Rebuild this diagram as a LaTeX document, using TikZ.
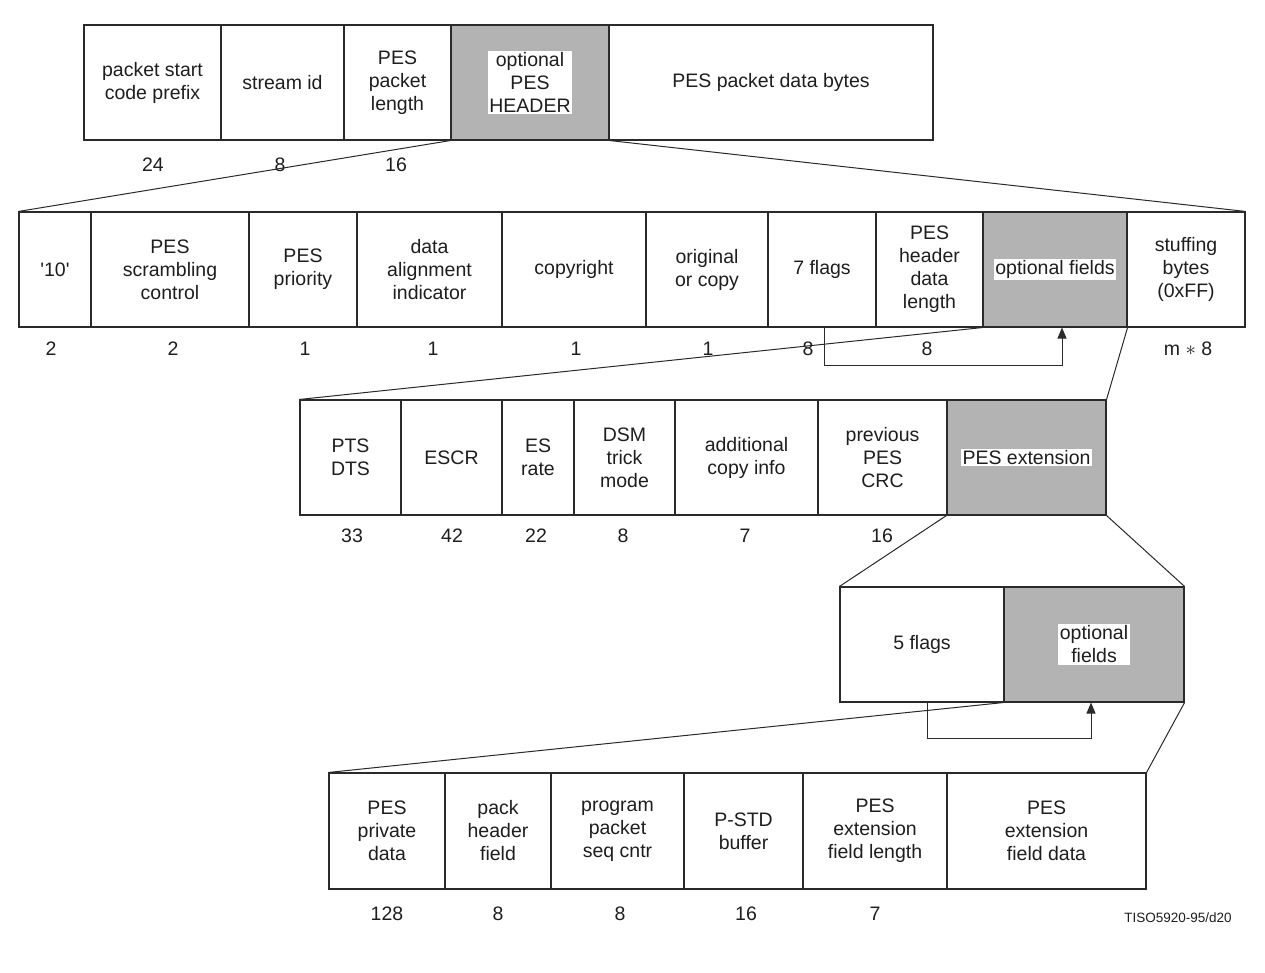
\documentclass[tikz,border=0pt]{standalone}
\usepackage{fontspec}
\setmainfont{Liberation Sans}
\usetikzlibrary{arrows.meta}
\definecolor{linec}{HTML}{2A2A2A}
\definecolor{greyc}{HTML}{B3B3B3}
\definecolor{textc}{HTML}{1E1E1E}
\newcommand\fsz{\fontsize{19.5}{23}\selectfont}
\newcommand\fld[7]{\node[#6, minimum width={(#3-#2)*1pt}, minimum height={#5*1pt}] (#1) at ({(#2+#3)/2},#4) {#7};}
\newcommand\num[3]{\node[numlab] (#1) at (#2,#3) {\strut};}
\begin{document}
\begin{tikzpicture}[x=1pt,y=-1pt,
  fieldbox/.style={draw=linec, line width=1.1pt, inner sep=0pt, align=center, font=\fsz, text=textc},
  greybox/.style={fieldbox, fill=greyc},
  whitelab/.style={fill=white, inner sep=1.5pt, align=center, font=\fsz, text=textc},
  numlab/.style={font=\fsz, text=textc, inner sep=0pt},
  conn/.style={draw=linec, line width=1pt},
  bracket/.style={draw=linec, line width=1pt, -{Triangle[width=9pt,length=11pt]}}]
\useasboundingbox (0,0) rectangle (1265,973);
% Row 1
\fld{psc}{84}{221}{82.5}{115}{fieldbox}{packet start\\code prefix}
\fld{sid}{221}{344}{82.5}{115}{fieldbox}{stream id}
\fld{ppl}{344}{451}{82.5}{115}{fieldbox}{PES\\packet\\length}
\fld{oph}{451}{609}{82.5}{115}{greybox}{}
\node[whitelab] (ophl) at (oph.center) {optional\\PES\\HEADER};
\fld{pdb}{609}{933}{82.5}{115}{fieldbox}{PES packet data bytes}
\node[numlab] (n1a) at (153,165) {24};
\node[numlab] (n1b) at (280,165) {8};
\node[numlab] (n1c) at (396,165) {16};
% Row 2
\fld{rten}{19}{91}{269.5}{115}{fieldbox}{\textquotesingle 10\textquotesingle}
\fld{scr}{91}{249}{269.5}{115}{fieldbox}{PES\\scrambling\\control}
\fld{pri}{249}{357}{269.5}{115}{fieldbox}{PES\\priority}
\fld{dai}{357}{502}{269.5}{115}{fieldbox}{data\\alignment\\indicator}
\fld{cop}{502}{646}{269.5}{115}{fieldbox}{copyright}
\fld{ooc}{646}{768}{269.5}{115}{fieldbox}{original\\or copy}
\fld{flseven}{768}{876}{269.5}{115}{fieldbox}{7 flags}
\fld{hdl}{876}{983}{269.5}{115}{fieldbox}{PES\\header\\data\\length}
\fld{opf}{983}{1127}{269.5}{115}{greybox}{}
\node[whitelab] (opfl) at (opf.center) {optional fields};
\fld{stf}{1127}{1245}{269.5}{115}{fieldbox}{stuffing\\bytes\\(0xFF)}
\node[numlab] (n2a) at (51,349) {2};
\node[numlab] (n2b) at (173,349) {2};
\node[numlab] (n2c) at (305,349) {1};
\node[numlab] (n2d) at (433,349) {1};
\node[numlab] (n2e) at (576,349) {1};
\node[numlab] (n2f) at (708,349) {1};
\node[numlab] (n2g) at (808,349) {8};
\node[numlab] (n2h) at (927,349) {8};
\node[numlab] (n2i) at (1188,349) {m $\ast$ 8};
% Row 3
\fld{pts}{300}{401}{457.5}{115}{fieldbox}{PTS\\DTS}
\fld{escr}{401}{502}{457.5}{115}{fieldbox}{ESCR}
\fld{esr}{502}{574}{457.5}{115}{fieldbox}{ES\\rate}
\fld{dsm}{574}{675}{457.5}{115}{fieldbox}{DSM\\trick\\mode}
\fld{aci}{675}{818}{457.5}{115}{fieldbox}{additional\\copy info}
\fld{crc}{818}{947}{457.5}{115}{fieldbox}{previous\\PES\\CRC}
\fld{pex}{947}{1106}{457.5}{115}{greybox}{}
\node[whitelab] (pexl) at (pex.center) {PES extension};
\node[numlab] (n3a) at (352,536) {33};
\node[numlab] (n3b) at (452,536) {42};
\node[numlab] (n3c) at (536,536) {22};
\node[numlab] (n3d) at (623,536) {8};
\node[numlab] (n3e) at (745,536) {7};
\node[numlab] (n3f) at (882,536) {16};
% Row 4
\fld{flfive}{840}{1004}{644.5}{115}{fieldbox}{5 flags}
\fld{opfour}{1004}{1184}{644.5}{115}{greybox}{}
\node[whitelab] (opfourl) at (opfour.center) {optional\\fields};
% Row 5
\fld{ppd}{329}{445}{831}{116}{fieldbox}{PES\\private\\data}
\fld{phf}{445}{551}{831}{116}{fieldbox}{pack\\header\\field}
\fld{pps}{551}{684}{831}{116}{fieldbox}{program\\packet\\seq cntr}
\fld{psb}{684}{803}{831}{116}{fieldbox}{P-STD\\buffer}
\fld{pel}{803}{947}{831}{116}{fieldbox}{PES\\extension\\field length}
\fld{ped}{947}{1146}{831}{116}{fieldbox}{PES\\extension\\field data}
\node[numlab] (n5a) at (387,914) {128};
\node[numlab] (n5b) at (498,914) {8};
\node[numlab] (n5c) at (620,914) {8};
\node[numlab] (n5d) at (746,914) {16};
\node[numlab] (n5e) at (875,914) {7};
\node[font=\fontsize{13.5}{15}\selectfont, text=textc, inner sep=0pt] (tiso) at (1178,918) {TISO5920-95/d20};
% Expansion connectors
\draw[conn] (oph.south west) -- (rten.north west);
\draw[conn] (oph.south east) -- (stf.north east);
\draw[conn] (opf.south west) -- (pts.north west);
\draw[conn] (opf.south east) -- (pex.north east);
\draw[conn] (pex.south west) -- (flfive.north west);
\draw[conn] (pex.south east) -- (opfour.north east);
\draw[conn] (opfour.south west) -- (ppd.north west);
\draw[conn] (opfour.south east) -- (ped.north east);
% Flag brackets
\draw[bracket] ([xshift=2pt]flseven.south) -- ++(0,38) -| ([xshift=7pt]opf.south);
\draw[bracket] ([xshift=5pt]flfive.south) -- ++(0,36) -| ([xshift=-3pt]opfour.south);
\end{tikzpicture}
\end{document}
